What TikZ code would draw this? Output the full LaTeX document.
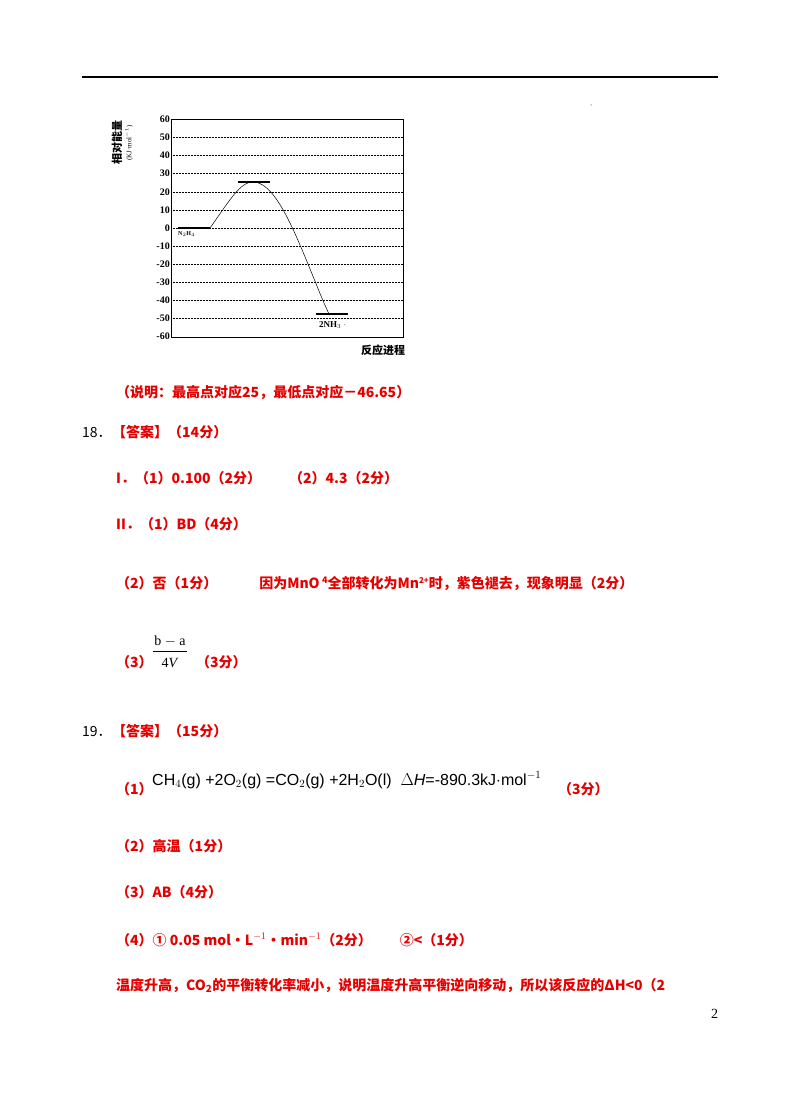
\documentclass[tikz,border=0pt]{standalone}
\usepackage{fontspec}
\setmainfont{Liberation Serif}
\newfontfamily\cjk{Noto Sans CJK SC}
\newfontfamily\eqf{Liberation Sans}
\begin{document}
\begin{tikzpicture}[x=1pt,y=-1pt,
  red/.style={text=red!90!black,font=\cjk\bfseries\fontsize{14}{14}\selectfont,anchor=base west,inner sep=0},
  blk/.style={font=\fontsize{14}{14}\selectfont,anchor=base west,inner sep=0},
  tick/.style={font=\bfseries\fontsize{10}{10}\selectfont,anchor=east,inner sep=1},
  grid/.style={densely dotted,line width=0.5pt}]
\useasboundingbox (0,0) rectangle (800,1107);
\fill[white] (0,0) rectangle (800,1107);
\draw[line width=1.2pt] (82,77) -- (718,77);
\fill (591,105) circle (0.5);
% chart
\foreach \v in {-50,-40,...,50}{
  \draw[grid] (171,{228-\v*1.81}) -- (403,{228-\v*1.81});}
\foreach \v in {-60,-50,...,60}{
  \node[tick] at (171,{228-\v*1.81}) {\v};}
\draw[line width=0.6pt] (171,119) rectangle (403,337);
\node[rotate=90,font=\cjk\bfseries\fontsize{11}{11}\selectfont] (yl) at (117,143) {相对能量};
\node[rotate=90,font=\fontsize{7}{7}\selectfont] (yu) at (129,143) {(KJ·mol$^{-1}$)};
\draw[line width=2pt] (178,228) -- (210,228);
\draw[line width=2pt] (238,182) -- (270,182);
\draw[line width=2pt] (316,314) -- (348,314);
\draw[line width=0.5pt] (210,228) .. controls (230,200) and (240,182) .. (253,182)
  .. controls (270,182) and (285,210) .. (300,245) .. controls (315,280) and (320,295) .. (329,314);
\node[font=\bfseries\fontsize{6}{6}\selectfont,anchor=west,inner sep=0] (r) at (178,234) {N$_2$H$_4$};
\node[font=\bfseries\fontsize{9}{9}\selectfont,anchor=west,inner sep=0] (p) at (319,325) {2NH$_3$ $\cdot$};
\node[font=\cjk\bfseries\fontsize{11}{11}\selectfont,inner sep=0] (xl) at (383,350) {反应进程};
% texts
\node[red] at (116,397) {（说明：最高点对应25，最低点对应－46.65）};
\node[blk,font=\cjk\fontsize{14}{14}\selectfont] at (82,437) {18．};
\node[red] at (112,437) {【答案】（14分）};
\node[red] at (116,483) {I．（1）0.100（2分）\quad\quad（2）4.3（2分）};
\node[red] at (116,529) {II．（1）BD（4分）};
\node[red] at (116,588) {（2）否（1分）\qquad\quad 因为MnO\,\raisebox{5pt}{\fontsize{9}{9}\selectfont 4}全部转化为Mn\raisebox{5pt}{\fontsize{8}{8}\selectfont 2+}时，紫色褪去，现象明显（2分）};
\node[red] at (116,667) {（3）};
\node[blk,anchor=base] at (170,645) {b $-$ a};
\draw[line width=0.5pt] (153,651) -- (187,651);
\node[blk,anchor=base] at (170,667) {4\textit{V}};
\node[red] at (196,667) {（3分）};
\node[blk,font=\cjk\fontsize{14}{14}\selectfont] at (82,736) {19．};
\node[red] at (112,736) {【答案】（15分）};
\node[red] at (116,794) {（1）};
\node[blk,font=\eqf\fontsize{16}{16}\selectfont] at (152,785) {CH$_4$(g) +2O$_2$(g) =CO$_2$(g) +2H$_2$O(l)\ \ $\Delta$\textit{H}=-890.3kJ$\cdot$mol$^{-1}$};
\node[red] at (558,794) {（3分）};
\node[red] at (116,851) {（2）高温（1分）};
\node[red] at (116,897) {（3）AB（4分）};
\node[red] at (116,945) {（4）① 0.05 mol·L$^{-1}$·min$^{-1}$（2分）\qquad ②<（1分）};
\node[red] at (116,990) {温度升高，CO\textsubscript{2}的平衡转化率减小，说明温度升高平衡逆向移动，所以该反应的Δ\textit{H}<0（2};
\node[blk] at (711,1018) {2};
\end{tikzpicture}
\end{document}
